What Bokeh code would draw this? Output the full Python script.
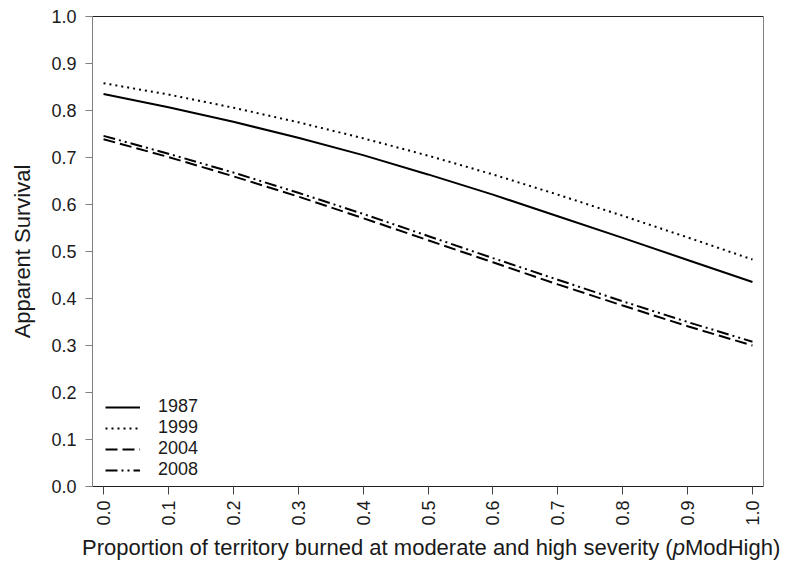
import math
from bokeh.plotting import figure
from bokeh.layouts import column
from bokeh.models import (Legend, LegendItem, LinearAxis, FixedTicker, Div,
                          Range1d, NumeralTickFormatter)
from bokeh.embed import file_html
from bokeh.resources import INLINE

# ---- data ----
x_vals = [0.0, 0.1, 0.2, 0.3, 0.4, 0.5, 0.6, 0.7, 0.8, 0.9, 1.0]
s1987 = [0.835, 0.807, 0.776, 0.742, 0.705, 0.664, 0.621, 0.575, 0.529, 0.482, 0.435]
s1999 = [0.858, 0.834, 0.806, 0.775, 0.741, 0.704, 0.664, 0.621, 0.576, 0.530, 0.483]
s2004 = [0.739, 0.701, 0.660, 0.617, 0.571, 0.524, 0.477, 0.430, 0.385, 0.341, 0.300]
s2008 = [0.746, 0.708, 0.668, 0.625, 0.580, 0.533, 0.486, 0.440, 0.394, 0.350, 0.308]
series_names = ["1987", "1999", "2004", "2008"]
x_ticks = [0.0, 0.1, 0.2, 0.3, 0.4, 0.5, 0.6, 0.7, 0.8, 0.9, 1.0]
y_ticks = [0.0, 0.1, 0.2, 0.3, 0.4, 0.5, 0.6, 0.7, 0.8, 0.9, 1.0]
y_title = "Apparent Survival"
x_title_a = "Proportion of territory burned at moderate and high severity ("
x_title_b = "p"
x_title_c = "ModHigh)"

FONT = "Liberation Sans"
TXT = "#1a1a1a"

p = figure(width=790, height=536, output_backend="svg", toolbar_location=None,
           x_range=Range1d(-0.017, 1.017), y_range=Range1d(0, 1),
           min_border_left=92, min_border_right=27, min_border_top=16,
           min_border_bottom=50)
p.grid.visible = False
p.outline_line_color = None
p.background_fill_color = "white"
p.border_fill_color = "white"

styles = [
    dict(line_dash="solid"),
    dict(line_dash="2 4"),
    dict(line_dash="12 5"),
    dict(line_dash="12 4 2 4 2 4"),
]
renderers = []
for ys, st in zip([s1987, s1999, s2004, s2008], styles):
    r = p.line(x_vals, ys, line_color="black", line_width=2, **st)
    renderers.append(r)

# axes
xa = p.xaxis[0]
xa.ticker = FixedTicker(ticks=x_ticks)
xa.formatter = NumeralTickFormatter(format="0.0")
xa.major_label_orientation = math.pi / 2
xa.major_label_text_font = FONT
xa.major_label_text_font_size = "18px"
xa.major_label_text_color = TXT
xa.major_label_standoff = 6
xa.major_tick_out = 8
xa.major_tick_in = 0
xa.minor_tick_line_color = None
xa.axis_line_color = "#222222"
xa.major_tick_line_color = "#444444"

ya = p.yaxis[0]
ya.ticker = FixedTicker(ticks=y_ticks)
ya.formatter = NumeralTickFormatter(format="0.0")
ya.major_label_text_font = FONT
ya.major_label_text_font_size = "18px"
ya.major_label_text_color = TXT
ya.major_label_standoff = 9
ya.major_tick_out = 7
ya.major_tick_in = 0
ya.minor_tick_line_color = None
ya.axis_line_color = "#808080"
ya.major_tick_line_color = "#808080"
ya.axis_label = y_title
ya.axis_label_text_font = FONT
ya.axis_label_text_font_size = "22px"
ya.axis_label_text_font_style = "normal"
ya.axis_label_text_color = TXT
ya.axis_label_standoff = 13

top_ax = LinearAxis(ticker=FixedTicker(ticks=[]), axis_line_color="#222222",
                    major_tick_line_color=None, minor_tick_line_color=None)
right_ax = LinearAxis(ticker=FixedTicker(ticks=[]), axis_line_color="#808080",
                      major_tick_line_color=None, minor_tick_line_color=None)
p.add_layout(top_ax, "above")
p.add_layout(right_ax, "right")

legend = Legend(items=[LegendItem(label=n, renderers=[r]) for n, r in zip(series_names, renderers)],
                location=(13, 6), border_line_color=None, background_fill_alpha=0,
                padding=0, margin=0, spacing=0, glyph_width=35, glyph_height=20,
                label_height=20, label_standoff=18, label_text_font=FONT,
                label_text_font_size="18px", label_text_color=TXT)
p.add_layout(legend)

# x-axis title with italic "p" (real HTML text)
x_title = Div(text=f"{x_title_a}<i>{x_title_b}</i>{x_title_c}", width=790, height=36,
              margin=(0, 0, 0, 0),
              styles={"font-family": FONT, "font-size": "22px", "color": TXT,
                      "line-height": "24px", "padding-left": "82px",
                      "white-space": "nowrap", "background-color": "white"})

layout = column(p, x_title, spacing=0)
open("out.html", "w").write(file_html(layout, INLINE))
